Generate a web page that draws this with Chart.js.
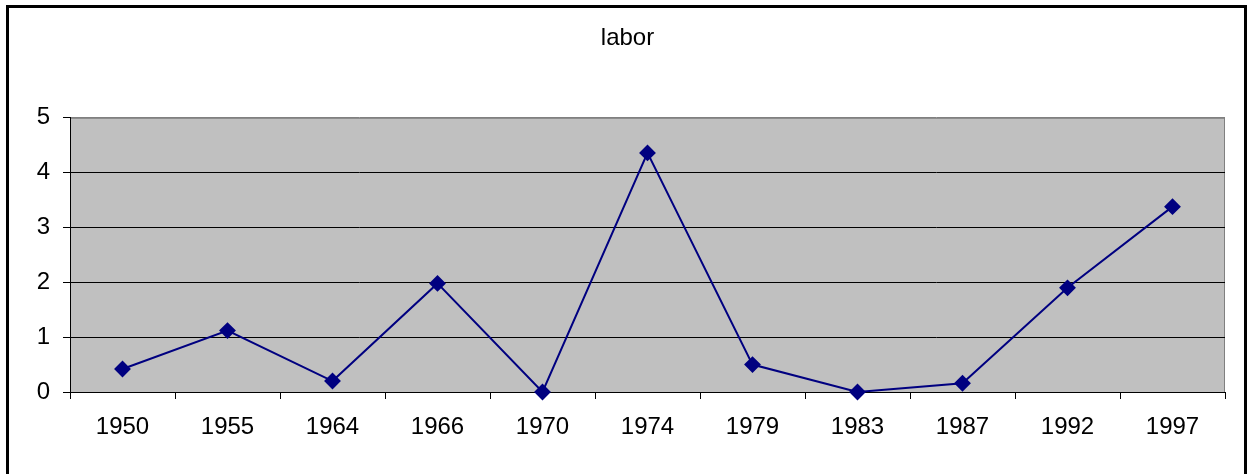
<!DOCTYPE html>
<html>
<head>
<meta charset="utf-8">
<script src="https://cdn.jsdelivr.net/npm/chart.js@4/dist/chart.umd.min.js"></script>
<style>
  html, body { margin: 0; padding: 0; background: #fff; }
  #wrap { width: 1248px; height: 474px; position: relative; }
</style>
</head>
<body>
<div id="wrap"><canvas id="labor-plot" width="1248" height="474"></canvas></div>
<script>
const chartTitle = "labor";
const years = ["1950", "1955", "1964", "1966", "1970", "1974", "1979", "1983", "1987", "1992", "1997"];
const laborValues = [0.42, 1.12, 0.2, 1.98, 0, 4.36, 0.5, 0, 0.16, 1.9, 3.38];
const yTicks = [0, 1, 2, 3, 4, 5];

// excel-ish frame + grey plot area
const frame = {
  id: 'frame',
  beforeDraw(chart) {
    const ctx = chart.ctx;
    const a = chart.chartArea;
    ctx.save();
    ctx.fillStyle = '#fff';
    ctx.fillRect(0, 0, chart.width, chart.height);
    ctx.lineWidth = 3;
    ctx.strokeStyle = '#000';
    ctx.strokeRect(7.5, 6.5, 1238, 480);
    ctx.fillStyle = '#c0c0c0';
    ctx.fillRect(a.left, a.top, a.right - a.left, a.bottom - a.top);
    ctx.lineWidth = 1;
    ctx.strokeStyle = '#808080';
    ctx.strokeRect(a.left + 0.5, a.top + 0.5, a.right - a.left - 1, a.bottom - a.top);
    ctx.restore();
  }
};

new Chart(document.getElementById('labor-plot'), {
  type: 'line',
  data: {
    labels: years,
    datasets: [{
      label: chartTitle,
      data: laborValues,
      borderColor: '#000080',
      backgroundColor: '#000080',
      borderWidth: 2,
      pointStyle: 'rectRot',
      pointRadius: 7,
      pointHoverRadius: 7,
      tension: 0,
      clip: false
    }]
  },
  options: {
    responsive: false,
    animation: false,
    layout: { padding: { left: 30, right: 23, top: 0, bottom: 0 } },
    plugins: {
      legend: { display: false },
      tooltip: { enabled: false },
      title: {
        display: true,
        text: chartTitle,
        color: '#000',
        font: { family: 'Liberation Sans', size: 24, weight: 'normal', lineHeight: 1.2 },
        padding: { top: 24, bottom: 65 }
      }
    },
    scales: {
      x: {
        offset: true,
        grid: {
          offset: true,
          drawOnChartArea: false,
          drawTicks: true,
          tickLength: 7,
          color: '#000'
        },
        border: { color: '#000', width: 1 },
        ticks: {
          color: '#000',
          padding: 14,
          maxRotation: 0,
          autoSkip: false,
          font: { family: 'Liberation Sans', size: 24 }
        },
        afterFit(scale) { scale.height = 82; }
      },
      y: {
        min: 0,
        max: 5,
        afterBuildTicks(scale) { scale.ticks = yTicks.map(v => ({ value: v })); },
        grid: {
          color: ctx => (ctx.tick && ctx.tick.value === 5 ? '#808080' : '#000'),
          tickColor: '#000',
          tickLength: 7,
          drawTicks: true
        },
        border: { color: '#000', width: 1 },
        ticks: {
          color: '#000',
          padding: 13,
          font: { family: 'Liberation Sans', size: 24 }
        },
        afterFit(scale) { scale.width = 40; }
      }
    }
  },
  plugins: [frame]
});
</script>
</body>
</html>
